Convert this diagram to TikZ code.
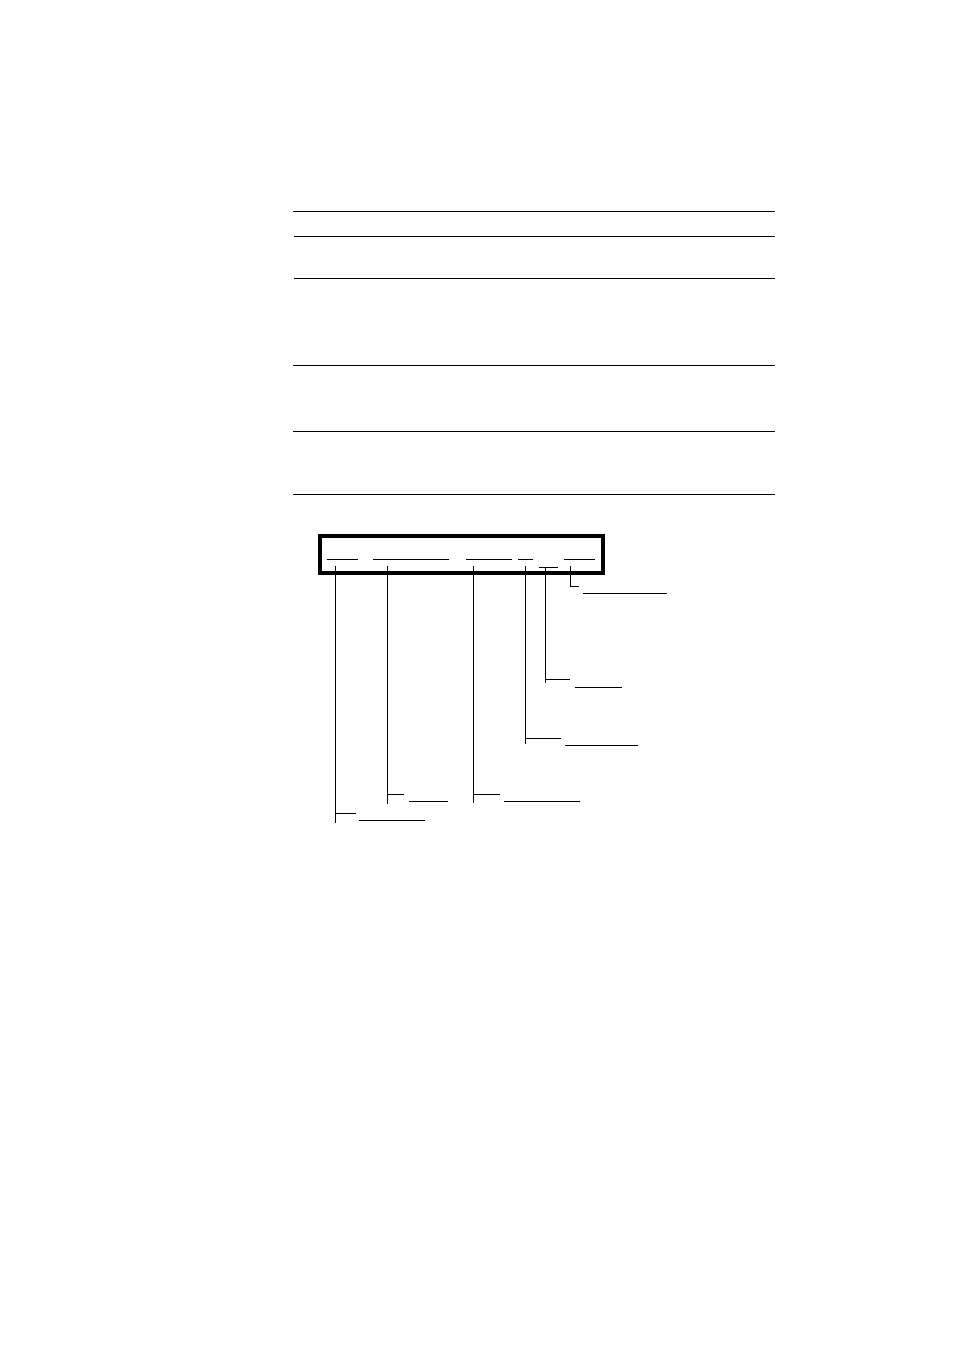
\documentclass[tikz,border=0pt]{standalone}
\begin{document}
\begin{tikzpicture}[x=1pt,y=-1pt,
  rule/.style={line width=1pt,black},
  lead/.style={line width=1pt,black},
  frame/.style={line width=4pt,black},
  blank/.style={line width=1pt,black}]
\useasboundingbox (0,0) rectangle (954,1351);
% table rules
\draw[rule] (293,211.3) -- (775,211.3);
\draw[rule] (294,236.3) -- (775,236.3);
\draw[rule] (294,278.3) -- (775,278.3);
\draw[rule] (293,365) -- (775,365);
\draw[rule] (293,431) -- (775,431);
\draw[rule] (293,494.3) -- (775,494.3);
% frame box
\draw[frame] (319.7,536.3) rectangle (602.7,573.3);
% blanks inside the box
\draw[blank] (326.7,559.7) -- (357.7,559.7);
\draw[blank] (373,559.7) -- (449.3,559.7);
\draw[blank] (466,559.7) -- (512,559.7);
\draw[blank] (518,559.7) -- (533,559.7);
\draw[blank] (564,559.7) -- (595,559.7);
\draw[blank] (539,567.3) -- (558,567.3);
% named anchor points
\coordinate (a0) at (335.7,565.7);
\coordinate (b0) at (387.3,565.7);
\coordinate (c0) at (473.3,565.7);
\coordinate (d0) at (525,565.7);
\coordinate (e0) at (545.5,567.3);
\coordinate (f0) at (570.7,565.7);
% leaders
\draw[lead] (f0) -- (570.7,586.3) -- (579,586.3);
\draw[blank] (582.7,593.3) -- (666.7,593.3);
\draw[lead] (e0) -- (545.5,683.3);
\draw[lead] (545.5,679) -- (570.3,679);
\draw[blank] (575,687.3) -- (621.7,687.3);
\draw[lead] (d0) -- (525,744.3);
\draw[lead] (525,738) -- (561,738);
\draw[blank] (565,745.3) -- (637.7,745.3);
\draw[lead] (c0) -- (473.3,803.3);
\draw[lead] (473.3,794.7) -- (500,794.7);
\draw[blank] (504,801.3) -- (579.7,801.3);
\draw[lead] (b0) -- (387.3,804);
\draw[lead] (387.3,794.7) -- (403.7,794.7);
\draw[blank] (409,801.3) -- (447.7,801.3);
\draw[lead] (a0) -- (335.7,822.5);
\draw[lead] (335.7,813.7) -- (355.7,813.7);
\draw[blank] (359,820.3) -- (425,820.3);
\end{tikzpicture}
\end{document}
